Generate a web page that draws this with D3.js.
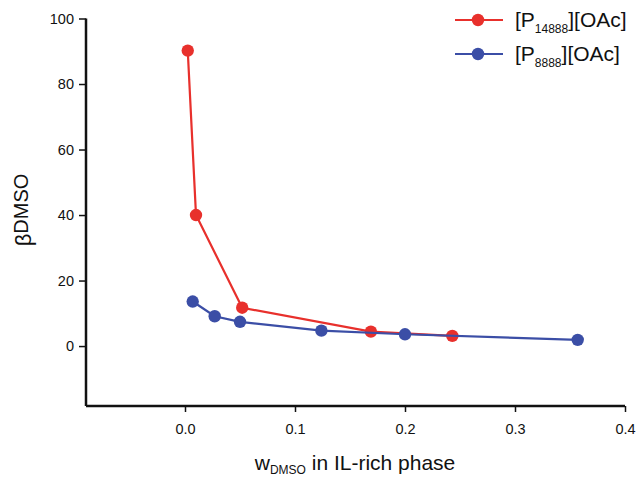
<!DOCTYPE html>
<html><head><meta charset="utf-8">
<script src="https://cdn.jsdelivr.net/npm/d3@7"></script>
<style>body{margin:0;background:#fff;} svg{display:block;font-family:Arial,"Liberation Sans",sans-serif;}</style>
</head><body>
<svg id="c" width="638" height="477"></svg>
<script>
const xP14888 = [0.0025, 0.010, 0.052, 0.169, 0.243];
const yP14888 = [90.2, 40.0, 11.7, 4.4, 3.1];
const xP8888 = [0.007, 0.027, 0.050, 0.124, 0.200, 0.357];
const yP8888 = [13.6, 9.1, 7.4, 4.7, 3.6, 1.9];
const xTicks = [0.0, 0.1, 0.2, 0.3, 0.4];
const yTicks = [0, 20, 40, 60, 80, 100];
const seriesNames = ["P14888", "P8888"];

const svg = d3.select("#c");
const x = d3.scaleLinear().domain([-0.09, 0.4]).range([86, 625]);
const y = d3.scaleLinear().domain([-18.3, 100]).range([406, 18.5]);

const colors = {P14888: "#e8302c", P8888: "#3b4ea6"};
const series = [
  {key: "P14888", pts: xP14888.map((v, i) => [v, yP14888[i]])},
  {key: "P8888", pts: xP8888.map((v, i) => [v, yP8888[i]])}
];

const xAxis = svg.append("g").attr("transform", `translate(0,${y.range()[0]})`)
  .call(d3.axisBottom(x).tickValues(xTicks).tickFormat(d3.format(".1f")).tickSize(6).tickSizeOuter(0));
const yAxis = svg.append("g").attr("transform", `translate(${x.range()[0]},0)`)
  .call(d3.axisLeft(y).tickValues(yTicks).tickSize(7).tickSizeOuter(0));
[xAxis, yAxis].forEach(g => {
  g.select(".domain").attr("stroke", "#111").attr("stroke-width", 2.5);
  g.selectAll(".tick line").attr("stroke", "#111").attr("stroke-width", 1.5);
  g.selectAll(".tick text").attr("fill", "#111").attr("font-size", 14.5).attr("font-family", "Arial, 'Liberation Sans', sans-serif");
});
xAxis.selectAll(".tick text").attr("dy", "1.3em");
yAxis.selectAll(".tick text").attr("x", -12);
xAxis.select(".domain").attr("d", `M${x.range()[0]},0H${x.range()[1]}`);
yAxis.select(".domain").attr("d", `M0,${y.range()[0]}V${y.range()[1]}`);

const line = d3.line().x(d => x(d[0])).y(d => y(d[1]));
series.forEach(s => {
  svg.append("path").datum(s.pts).attr("d", line)
    .attr("fill", "none").attr("stroke", colors[s.key]).attr("stroke-width", 2.2);
  svg.selectAll(null).data(s.pts).enter().append("circle")
    .attr("cx", d => x(d[0])).attr("cy", d => y(d[1])).attr("r", 6.2)
    .attr("fill", colors[s.key]);
});

const yt = svg.append("text").attr("transform", "translate(31,210) rotate(-90)")
  .attr("text-anchor", "middle").attr("font-size", 20).attr("fill", "#111");
yt.append("tspan").text("β").attr("font-size", 22);
yt.append("tspan").text("DMSO").attr("dy", -3);

const xt = svg.append("text").attr("x", 355).attr("y", 470).attr("text-anchor", "middle")
  .attr("font-size", 21).attr("fill", "#111");
xt.append("tspan").text("w");
xt.append("tspan").text("DMSO").attr("font-size", 12).attr("dy", 4);
xt.append("tspan").text(" in IL-rich phase").attr("dy", -4);

const legLabels = {P14888: ["[P", "14888", "][OAc]"], P8888: ["[P", "8888", "][OAc]"]};
seriesNames.forEach((k, i) => {
  const ly = 20 + i * 34;
  const g = svg.append("g");
  g.append("line").attr("x1", 455).attr("x2", 503).attr("y1", ly).attr("y2", ly)
    .attr("stroke", colors[k]).attr("stroke-width", 2.2);
  g.append("circle").attr("cx", 478).attr("cy", ly).attr("r", 6.2).attr("fill", colors[k]);
  const t = g.append("text").attr("x", 515).attr("y", ly + 7).attr("font-size", 21).attr("fill", "#111");
  t.append("tspan").text(legLabels[k][0]);
  t.append("tspan").text(legLabels[k][1]).attr("font-size", 12).attr("dy", 6);
  t.append("tspan").text(legLabels[k][2]).attr("dy", -6);
});
</script>
</body></html>
